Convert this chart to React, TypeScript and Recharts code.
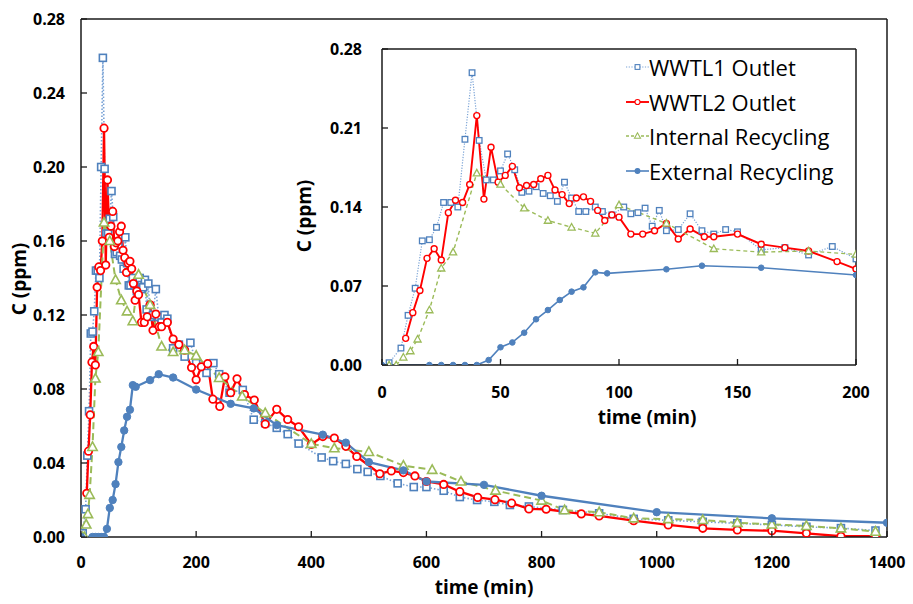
import React from 'react';
import { LineChart, Line, XAxis, YAxis, ReferenceLine, Legend } from 'recharts';

const FONT = '"Open Sans", "Liberation Sans", Arial, sans-serif';

// ---------- data (time in min, concentration in ppm) ----------
const wwtl1Time = [3, 8, 11, 14, 17, 20, 23, 26, 29, 32, 35, 38, 41, 44, 47, 50, 53, 56, 59, 62, 65, 68, 71, 74, 77, 80, 83, 86, 90, 93, 97, 102, 105, 108, 111, 114, 117, 120, 125, 130, 135, 140, 145, 150, 160, 170, 180, 190, 200, 218, 230, 240, 258, 281, 300, 320, 340, 359, 378, 418, 438, 460, 480, 498, 520, 550, 578, 600, 630, 658, 688, 718, 745, 778, 837, 900, 960, 1020, 1080, 1140, 1200, 1260, 1320, 1380];
const wwtl1Conc = [0.002, 0.015, 0.044, 0.068, 0.110, 0.111, 0.122, 0.144, 0.144, 0.140, 0.200, 0.259, 0.199, 0.164, 0.164, 0.172, 0.187, 0.173, 0.153, 0.154, 0.158, 0.152, 0.150, 0.145, 0.162, 0.148, 0.136, 0.136, 0.140, 0.136, 0.133, 0.140, 0.134, 0.135, 0.139, 0.123, 0.137, 0.119, 0.120, 0.134, 0.119, 0.116, 0.120, 0.118, 0.102, 0.104, 0.0975, 0.105, 0.094, 0.0887, 0.094, 0.088, 0.078, 0.0795, 0.0634, 0.0616, 0.059, 0.0556, 0.0505, 0.043, 0.041, 0.0395, 0.0367, 0.0352, 0.033, 0.029, 0.027, 0.027, 0.025, 0.0216, 0.020, 0.019, 0.0173, 0.0165, 0.0146, 0.0128, 0.0098, 0.009, 0.0082, 0.0074, 0.0065, 0.0055, 0.0048, 0.0035];

const wwtl2Time = [10, 13, 16, 19, 22, 25, 28, 31, 34, 37, 40, 43, 46, 49, 52, 55, 58, 61, 64, 67, 70, 73, 76, 79, 82, 85, 88, 91, 94, 97, 100, 105, 110, 115, 120, 125, 130, 136, 140, 150, 160, 170, 180, 192, 200, 209, 220, 229, 241, 250, 260, 271, 284, 301, 320, 340, 359, 378, 400, 420, 440, 460, 479, 519, 539, 560, 580, 600, 630, 658, 689, 719, 748, 778, 808, 869, 900, 960, 1020, 1080, 1140, 1200, 1260, 1320, 1380];
const wwtl2Conc = [0.0236, 0.0464, 0.066, 0.0945, 0.103, 0.093, 0.135, 0.146, 0.144, 0.160, 0.221, 0.147, 0.193, 0.162, 0.168, 0.176, 0.157, 0.159, 0.160, 0.165, 0.168, 0.155, 0.151, 0.143, 0.148, 0.149, 0.145, 0.137, 0.128, 0.133, 0.131, 0.116, 0.116, 0.119, 0.1255, 0.1117, 0.1205, 0.1137, 0.1137, 0.116, 0.107, 0.104, 0.101, 0.0916, 0.085, 0.092, 0.0937, 0.0745, 0.0706, 0.0866, 0.078, 0.0855, 0.077, 0.074, 0.061, 0.069, 0.0635, 0.0596, 0.050, 0.0543, 0.0535, 0.049, 0.0435, 0.0342, 0.0357, 0.0348, 0.033, 0.030, 0.0284, 0.0245, 0.0214, 0.0202, 0.0183, 0.0152, 0.015, 0.0125, 0.0114, 0.0088, 0.0065, 0.0047, 0.0038, 0.0034, 0.002, 0.0004, 0.0004];

const internalTime = [3, 6, 9, 12, 15, 20, 25, 30, 40, 50, 60, 70, 80, 90, 100, 120, 140, 160, 180, 200, 240, 280, 320, 400, 440, 500, 560, 610, 660, 720, 800, 840, 900, 960, 1020, 1080, 1140, 1200, 1260, 1320, 1380];
const internalConc = [0, 0, 0.0068, 0.0124, 0.0228, 0.0487, 0.0857, 0.100, 0.170, 0.160, 0.139, 0.128, 0.122, 0.1167, 0.1418, 0.1255, 0.103, 0.100, 0.101, 0.098, 0.086, 0.076, 0.067, 0.0504, 0.048, 0.046, 0.0386, 0.0363, 0.030, 0.0251, 0.0197, 0.0145, 0.0134, 0.0101, 0.0097, 0.0092, 0.0077, 0.0068, 0.006, 0.0047, 0.0029];

const externalTime = [0, 20, 25, 30, 35, 40, 45, 50, 55, 60, 65, 70, 75, 80, 85, 90, 95, 120, 135, 160, 200, 260, 300, 340, 420, 460, 500, 560, 600, 700, 800, 1000, 1200, 1400];
const externalConc = [0, 0, 0, 0, 0, 0, 0.0044, 0.0157, 0.020, 0.0286, 0.0405, 0.0487, 0.0576, 0.065, 0.0688, 0.0821, 0.0812, 0.0848, 0.088, 0.0862, 0.0797, 0.072, 0.0695, 0.0605, 0.0553, 0.051, 0.0405, 0.036, 0.030, 0.0282, 0.0223, 0.0134, 0.0101, 0.0077];

const mainXTicks = [0, 200, 400, 600, 800, 1000, 1200, 1400];
const mainYTicks = [0, 0.04, 0.08, 0.12, 0.16, 0.2, 0.24, 0.28];
const insetXTicks = [0, 50, 100, 150, 200];
const insetYTicks = [0, 0.07, 0.14, 0.21, 0.28];

const seriesNames = ['WWTL1 Outlet', 'WWTL2 Outlet', 'Internal Recycling', 'External Recycling'];

const toPoints = (t: number[], c: number[]) => t.map((v, i) => ({ t: v, c: c[i] }));

type Style = {
  marker: string;
  markerColor: string;
  lineColor: string;
  dash?: string;
  main: { sw: number; size: number; msw: number };
  inset: { sw: number; size: number; msw: number };
};

const styles: Record<string, Style> = {
  'WWTL1 Outlet': { marker: 'square', markerColor: '#4F81BD', lineColor: '#7AA3D6', dash: '1.5 2', main: { sw: 1.6, size: 7, msw: 1.6 }, inset: { sw: 1.2, size: 5.6, msw: 1.3 } },
  'WWTL2 Outlet': { marker: 'circle', markerColor: '#FF0000', lineColor: '#FF0000', main: { sw: 2.3, size: 7.4, msw: 1.8 }, inset: { sw: 1.9, size: 6, msw: 1.4 } },
  'Internal Recycling': { marker: 'triangle', markerColor: '#9BBB59', lineColor: '#9BBB59', dash: '7 4', main: { sw: 2, size: 8.5, msw: 1.6 }, inset: { sw: 1.4, size: 6.5, msw: 1.3 } },
  'External Recycling': { marker: 'filled', markerColor: '#4F81BD', lineColor: '#4F81BD', main: { sw: 2.3, size: 7.4, msw: 1 }, inset: { sw: 1.6, size: 5.6, msw: 1 } },
};

const seriesData: Record<string, { t: number; c: number }[]> = {
  'WWTL1 Outlet': toPoints(wwtl1Time, wwtl1Conc),
  'WWTL2 Outlet': toPoints(wwtl2Time, wwtl2Conc),
  'Internal Recycling': toPoints(internalTime, internalConc),
  'External Recycling': toPoints(externalTime, externalConc),
};

function Marker({ kind, cx, cy, size, color, sw }: { kind: string; cx: number; cy: number; size: number; color: string; sw: number }) {
  if (kind === 'square') {
    return <rect x={cx - size / 2} y={cy - size / 2} width={size} height={size} fill="#fff" stroke={color} strokeWidth={sw} />;
  }
  if (kind === 'circle') {
    return <circle cx={cx} cy={cy} r={size / 2} fill="#fff" stroke={color} strokeWidth={sw} />;
  }
  if (kind === 'triangle') {
    const h = size;
    const pts = `${cx},${cy - h * 0.58} ${cx - h * 0.55},${cy + h * 0.42} ${cx + h * 0.55},${cy + h * 0.42}`;
    return <polygon points={pts} fill="#fff" stroke={color} strokeWidth={sw} strokeLinejoin="miter" />;
  }
  return <circle cx={cx} cy={cy} r={size / 2} fill={color} stroke={color} strokeWidth={sw} />;
}

const makeDot = (name: string, which: 'main' | 'inset') => (props: any) => {
  const { cx, cy, index } = props;
  const st = styles[name];
  const k = `${which}-${name}-${index}`;
  if (cx == null || cy == null || Number.isNaN(cx) || Number.isNaN(cy)) return <g key={k} />;
  const s = st[which];
  return (
    <g key={k}>
      <Marker kind={st.marker} cx={cx} cy={cy} size={s.size} color={st.markerColor} sw={s.msw} />
    </g>
  );
};

const AXIS_COLOR = '#1a1a1a';

const XTick = (props: any) => {
  const { x, y, payload, len, labelDy, fs } = props;
  return (
    <g>
      <line x1={x} y1={y} x2={x} y2={y - len} stroke={AXIS_COLOR} strokeWidth={1.3} />
      <text x={x} y={y + labelDy} textAnchor="middle" fontFamily={FONT} fontWeight={700} fontSize={fs} fill="#000">
        {payload.value}
      </text>
    </g>
  );
};

const YTick = (props: any) => {
  const { x, y, payload, len, labelDx, fs } = props;
  return (
    <g>
      <line x1={x} y1={y} x2={x + len} y2={y} stroke={AXIS_COLOR} strokeWidth={1.3} />
      <text x={x - labelDx} y={y + fs * 0.36} textAnchor="end" fontFamily={FONT} fontWeight={700} fontSize={fs} fill="#000">
        {Number(payload.value).toFixed(2)}
      </text>
    </g>
  );
};

const LegendContent = (props: any) => {
  const present: string[] = props && props.payload && props.payload.length ? props.payload.map((p: any) => p.value) : seriesNames;
  const ordered = seriesNames.filter((n) => present.indexOf(n) >= 0);
  return (
    <div style={{ fontFamily: FONT }}>
      {ordered.map((name) => {
        const st = styles[name];
        return (
          <div key={name} style={{ height: 34.7, display: 'flex', alignItems: 'center' }}>
            <svg width={25} height={20} style={{ display: 'block' }}>
              <line x1={1} y1={10} x2={24} y2={10} stroke={st.lineColor} strokeWidth={st.inset.sw} strokeDasharray={st.dash ? (st.marker === 'square' ? '1.2 1.5' : '3 2') : undefined} />
              <Marker kind={st.marker} cx={12.5} cy={10} size={st.inset.size * 0.85} color={st.markerColor} sw={1.1} />
            </svg>
            <span style={{ fontSize: 22, color: '#000', fontWeight: 500, marginLeft: -1, whiteSpace: 'nowrap', lineHeight: '22px' }}>{name}</span>
          </div>
        );
      })}
    </div>
  );
};

// inset chart placement (page pixels)
const INSET_LEFT = 280;
const INSET_TOP = 35;

export default function App() {
  const titleStyle = { fontFamily: FONT, fontWeight: 700, fontSize: 19, fill: '#000' } as const;
  return (
    <div style={{ position: 'absolute', left: 0, top: 0, width: 913, height: 604, background: '#fff' }}>
      {/* main chart */}
      <div style={{ position: 'absolute', left: 0, top: 0 }}>
        <LineChart width={913} height={604} margin={{ top: 19, right: 26, bottom: 0, left: 0 }}>
          <XAxis
            dataKey="t"
            type="number"
            domain={[0, 1400]}
            ticks={mainXTicks}
            interval={0}
            allowDataOverflow
            height={67}
            tickSize={0}
            tickMargin={0}
            tickLine={false}
            axisLine={{ stroke: AXIS_COLOR, strokeWidth: 1.5 }}
            tick={(p: any) => <XTick {...p} len={6} labelDy={31} fs={16} />}
            label={() => (
              <text x={484} y={594} textAnchor="middle" {...titleStyle}>
                time (min)
              </text>
            )}
          />
          <YAxis
            type="number"
            domain={[0, 0.28]}
            ticks={mainYTicks}
            interval={0}
            allowDataOverflow
            width={81}
            tickSize={0}
            tickMargin={0}
            tickLine={false}
            axisLine={{ stroke: AXIS_COLOR, strokeWidth: 1.5 }}
            tick={(p: any) => <YTick {...p} len={6} labelDx={16} fs={16} />}
            label={() => (
              <text x={25.5} y={279} textAnchor="middle" transform="rotate(-90 25.5 279)" {...titleStyle}>
                C (ppm)
              </text>
            )}
          />
          <ReferenceLine y={0.28} stroke={AXIS_COLOR} strokeWidth={1.5} />
          <ReferenceLine x={1400} stroke={AXIS_COLOR} strokeWidth={1.5} />
          {seriesNames.map((name) => {
            const st = styles[name];
            return (
              <Line
                key={name}
                name={name}
                data={seriesData[name]}
                dataKey="c"
                type="linear"
                stroke={st.lineColor}
                strokeWidth={st.main.sw}
                strokeDasharray={st.dash}
                dot={makeDot(name, 'main')}
                activeDot={false}
                isAnimationActive={false}
              />
            );
          })}
        </LineChart>
      </div>

      {/* inset chart */}
      <div style={{ position: 'absolute', left: INSET_LEFT, top: INSET_TOP }}>
        <LineChart width={595} height={400} margin={{ top: 14, right: 19, bottom: 0, left: 0 }}>
          <XAxis
            dataKey="t"
            type="number"
            domain={[0, 200]}
            ticks={insetXTicks}
            interval={0}
            allowDataOverflow
            height={70}
            tickSize={0}
            tickMargin={0}
            tickLine={false}
            axisLine={{ stroke: AXIS_COLOR, strokeWidth: 1.5 }}
            tick={(p: any) => <XTick {...p} len={6} labelDy={32.7} fs={16} />}
            label={() => (
              <text x={647 - INSET_LEFT} y={424 - INSET_TOP} textAnchor="middle" {...titleStyle}>
                time (min)
              </text>
            )}
          />
          <YAxis
            type="number"
            domain={[0, 0.28]}
            ticks={insetYTicks}
            interval={0}
            allowDataOverflow
            width={102}
            tickSize={0}
            tickMargin={0}
            tickLine={false}
            axisLine={{ stroke: AXIS_COLOR, strokeWidth: 1.5 }}
            tick={(p: any) => <YTick {...p} len={6} labelDx={20} fs={16} />}
            label={() => (
              <text
                x={311 - INSET_LEFT}
                y={216 - INSET_TOP}
                textAnchor="middle"
                transform={`rotate(-90 ${311 - INSET_LEFT} ${216 - INSET_TOP})`}
                {...titleStyle}
              >
                C (ppm)
              </text>
            )}
          />
          <ReferenceLine y={0.28} stroke={AXIS_COLOR} strokeWidth={1.5} />
          <ReferenceLine x={200} stroke={AXIS_COLOR} strokeWidth={1.5} />
          {seriesNames.map((name) => {
            const st = styles[name];
            return (
              <Line
                key={name}
                name={name}
                data={seriesData[name]}
                dataKey="c"
                type="linear"
                stroke={st.lineColor}
                strokeWidth={st.inset.sw}
                strokeDasharray={st.dash ? (st.marker === 'square' ? '1.2 1.5' : '4 3') : undefined}
                dot={makeDot(name, 'inset')}
                activeDot={false}
                isAnimationActive={false}
              />
            );
          })}
          <Legend
            layout="vertical"
            align="center"
            verticalAlign="middle"
            content={LegendContent}
            wrapperStyle={{ position: 'absolute', left: 625 - INSET_LEFT, top: 14.6, width: 240, height: 140 }}
          />
        </LineChart>
      </div>
    </div>
  );
}
